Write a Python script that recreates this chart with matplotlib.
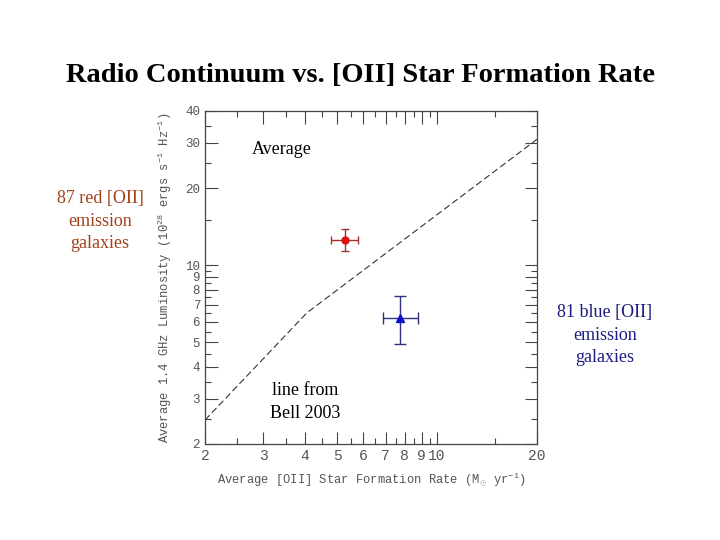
import matplotlib
matplotlib.use("Agg")
import matplotlib.pyplot as plt
import numpy as np
from matplotlib.ticker import FixedLocator, NullFormatter

# Average points (x = [OII] SFR, y = 1.4 GHz luminosity)
red_x, red_y = 5.28, 12.5
red_xerr = [[5.28 - 4.79], [5.78 - 5.28]]
red_yerr = [[12.5 - 11.4], [13.8 - 12.5]]

blue_x, blue_y = 7.75, 6.2
blue_xerr = [[7.75 - 6.86], [8.77 - 7.75]]
blue_yerr = [[6.2 - 4.92], [7.57 - 6.2]]

# Bell 2003 relation (dashed)
bell_x = [2.0, 4.05, 20.0]
bell_y = [2.48, 6.5, 31.0]

x_major = [2, 3, 4, 5, 6, 7, 8, 9, 10, 20]
x_minor = [2.5, 3.5, 4.5, 5.5, 6.5, 7.5, 8.5, 9.5, 15]
y_major = [2, 3, 4, 5, 6, 7, 8, 9, 10, 20, 30, 40]
y_minor = [2.5, 3.5, 4.5, 5.5, 6.5, 7.5, 8.5, 9.5, 15, 25, 35]

gray = "#555555"
mono = "Liberation Mono"
serif = "Liberation Serif"

plt.rcParams["mathtext.fontset"] = "custom"
plt.rcParams["mathtext.rm"] = mono
plt.rcParams["mathtext.it"] = mono

fig = plt.figure(figsize=(7.2, 5.4), dpi=100)
ax = fig.add_axes([0.2847, 0.1778, 0.4611, 0.6167])

ax.plot(bell_x, bell_y, ls=(0, (6, 3)), color="#333333", lw=0.8)
ax.errorbar(red_x, red_y, xerr=red_xerr, yerr=red_yerr, fmt="o", color="#dd1111",
            ecolor="#a03030", elinewidth=1, capsize=3, ms=5)
ax.errorbar(blue_x, blue_y, xerr=blue_xerr, yerr=blue_yerr, fmt="^", color="#1010cc",
            ecolor="#303080", elinewidth=1, capsize=4, ms=6)

ax.set_xscale("log")
ax.set_yscale("log")
ax.set_xlim(2, 20)
ax.set_ylim(2, 40)

ax.xaxis.set_major_locator(FixedLocator(x_major))
ax.xaxis.set_minor_locator(FixedLocator(x_minor))
ax.yaxis.set_major_locator(FixedLocator(y_major))
ax.yaxis.set_minor_locator(FixedLocator(y_minor))
ax.set_xticklabels([str(v) for v in x_major])
ax.set_yticklabels([str(v) for v in y_major])
ax.xaxis.set_minor_formatter(NullFormatter())
ax.yaxis.set_minor_formatter(NullFormatter())

ax.tick_params(which="both", direction="in", top=True, right=True, colors="#444444",
               labelcolor=gray, labelsize=10.5)
ax.tick_params(axis="y", labelsize=9)
ax.tick_params(which="major", length=9, width=0.8)
ax.tick_params(which="minor", length=4, width=0.8)
for lab in ax.get_xticklabels() + ax.get_yticklabels():
    lab.set_fontfamily(mono)
for s in ax.spines.values():
    s.set_color("#444444")
    s.set_linewidth(0.9)

ax.set_xlabel(r"Average [OII] Star Formation Rate (M$_{\odot}$ yr$^{-1}$)",
              family=mono, color=gray, fontsize=8.7, labelpad=6)
ax.set_ylabel(r"Average 1.4 GHz Luminosity (10$^{28}$ ergs s$^{-1}$ Hz$^{-1}$)",
              family=mono, color=gray, fontsize=8.7, labelpad=8)

fig.text(0.5, 0.86, "Radio Continuum vs. [OII] Star Formation Rate", ha="center",
         va="center", family=serif, fontweight="bold", fontsize=20.5)
fig.text(282 / 720, 1 - 149 / 540, "Average", ha="center", va="center",
         family=serif, fontsize=13)
fig.text(100 / 720, 1 - 221 / 540, "87 red [OII]\nemission\ngalaxies", ha="center",
         va="center", family=serif, fontsize=13, color="#a3401c", linespacing=1.4)
fig.text(605 / 720, 1 - 335 / 540, "81 blue [OII]\nemission\ngalaxies", ha="center",
         va="center", family=serif, fontsize=13, color="#1c1c80", linespacing=1.4)
fig.text(305 / 720, 1 - 402 / 540, "line from\nBell 2003", ha="center", va="center",
         family=serif, fontsize=13, linespacing=1.4)

fig.savefig("out.png", dpi=100)
